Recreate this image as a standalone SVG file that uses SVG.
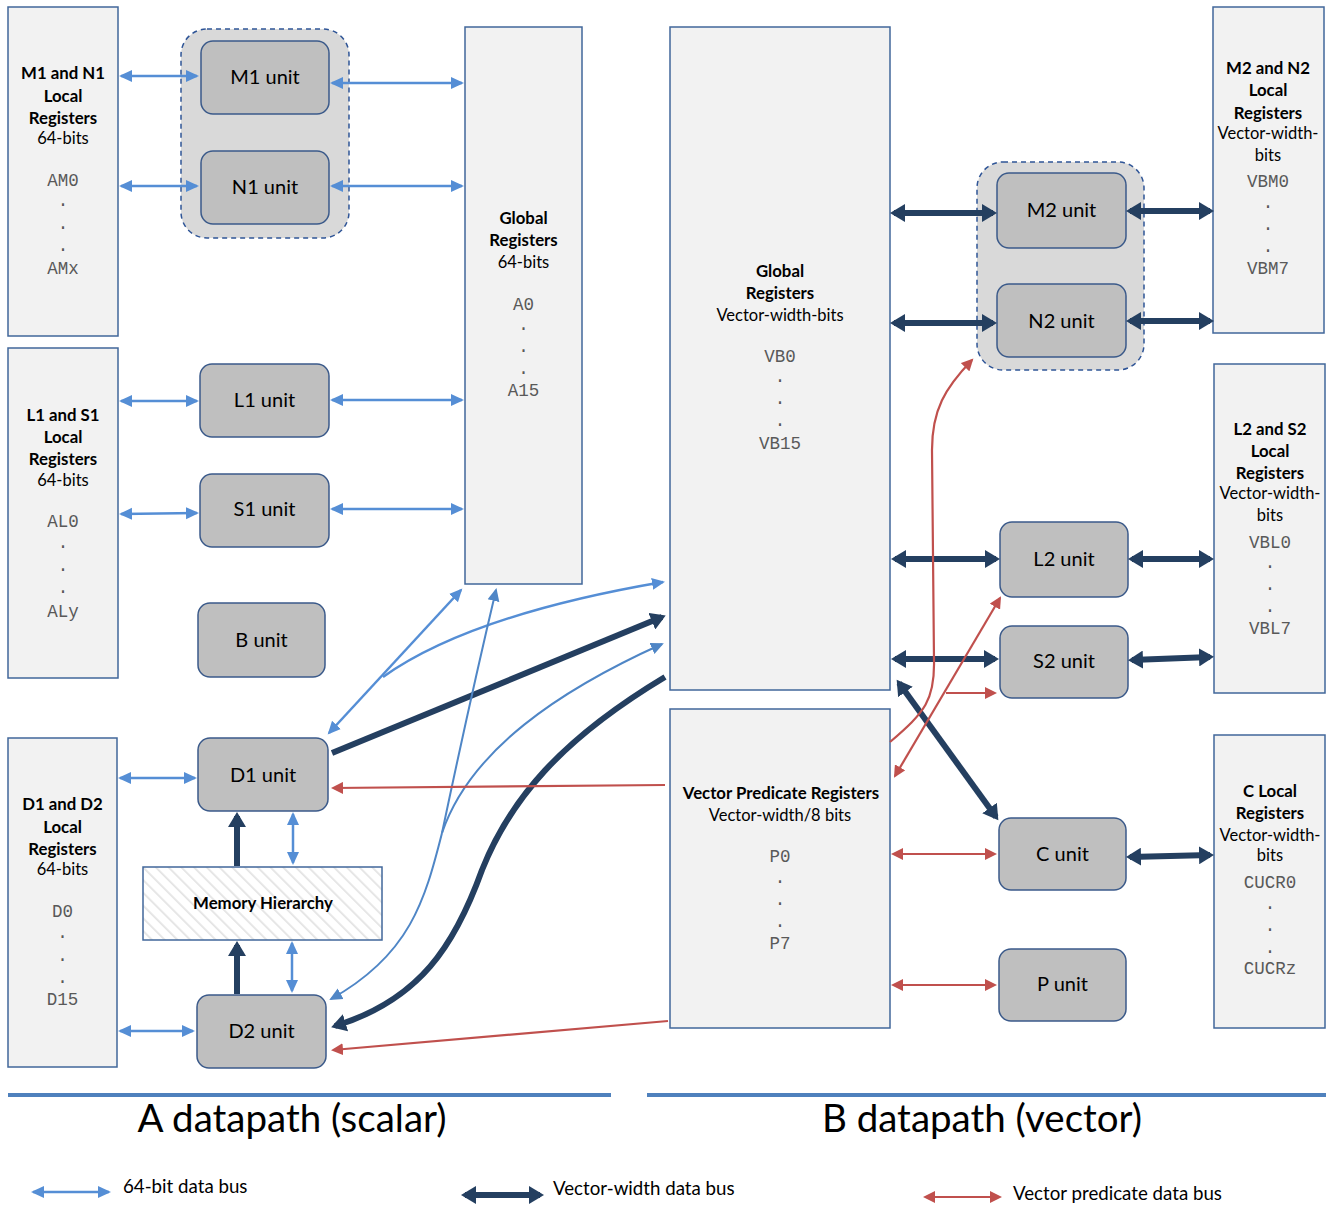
<svg xmlns="http://www.w3.org/2000/svg" width="1326" height="1205" viewBox="0 0 1326 1205">
<style>
.reg{fill:#f2f2f2;stroke:#41679a;stroke-width:1.5}
.unit{fill:#bfbfbf;stroke:#3b5a8a;stroke-width:1.5}
.grp{fill:#d9d9d9;stroke:#2f5597;stroke-width:1.5;stroke-dasharray:5 4}
.t{font-family:Lato,"Liberation Sans",sans-serif;fill:#000;text-anchor:middle}
.b{font-weight:bold;font-size:16.8px}
.r{font-size:16.5px}
.u{font-size:20px}
.m{font-family:"Liberation Mono","Courier New",monospace;font-size:17.5px;fill:#595959;text-anchor:middle}
.lg{font-family:Lato,"Liberation Sans",sans-serif;font-size:18.7px;fill:#000}
.lb{fill:none;stroke:#558ed5;stroke-width:2.5}
.lbt{fill:none;stroke:#4f86c6;stroke-width:2}
.dk{fill:none;stroke:#243f60;stroke-width:6}
.rd{fill:none;stroke:#c0504d;stroke-width:2.2}
</style>
<defs>
<marker id="aB" markerUnits="userSpaceOnUse" viewBox="0 0 14 14" markerWidth="14" markerHeight="14" refX="11" refY="7" orient="auto-start-reverse"><path d="M0,1 L13,7 L0,13 z" fill="#558ed5"/></marker>
<marker id="aB2" markerUnits="userSpaceOnUse" viewBox="0 0 14 14" markerWidth="14" markerHeight="14" refX="11" refY="7" orient="auto-start-reverse"><path d="M0,1 L13,7 L0,13 z" fill="#4f86c6"/></marker>
<marker id="aD" markerUnits="userSpaceOnUse" viewBox="0 0 16 18" markerWidth="16" markerHeight="18" refX="11" refY="9" orient="auto-start-reverse"><path d="M0,0 L15,9 L0,18 z" fill="#243f60"/></marker>
<marker id="aR" markerUnits="userSpaceOnUse" viewBox="0 0 13 12" markerWidth="13" markerHeight="12" refX="10" refY="6" orient="auto-start-reverse"><path d="M0,0 L12,6 L0,12 z" fill="#c0504d"/></marker>
<pattern id="hatch" patternUnits="userSpaceOnUse" width="9" height="9" patternTransform="rotate(-45)"><rect width="9" height="9" fill="#ffffff"/><line x1="0" y1="0" x2="0" y2="9" stroke="#e3e3e3" stroke-width="3.5"/></pattern>
</defs>

<g id="m1n1-local">
<rect class="reg" x="8" y="7" width="110" height="329"/>
<text class="t b" x="63" y="79">M1 and N1</text>
<text class="t b" x="63" y="102">Local</text>
<text class="t b" x="63" y="124">Registers</text>
<text class="t r" x="63" y="144">64-bits</text>
<text class="m" x="63" y="186">AM0</text>
<text class="m" x="63" y="206">.</text>
<text class="m" x="63" y="229">.</text>
<text class="m" x="63" y="251">.</text>
<text class="m" x="63" y="274">AMx</text>
</g>
<g id="mn1-group"><rect class="grp" x="181" y="29" width="168" height="209" rx="26"/></g>
<g id="m1-unit"><rect class="unit" x="201" y="41" width="128" height="73" rx="12"/><text class="t u" x="265" y="84">M1 unit</text></g>
<g id="n1-unit"><rect class="unit" x="201" y="151" width="128" height="73" rx="12"/><text class="t u" x="265" y="194">N1 unit</text></g>

<g id="global-a">
<rect class="reg" x="465" y="27" width="117" height="557"/>
<text class="t b" x="523.5" y="224">Global</text>
<text class="t b" x="523.5" y="246">Registers</text>
<text class="t r" x="523.5" y="268">64-bits</text>
<text class="m" x="523.5" y="310">A0</text>
<text class="m" x="523.5" y="330">.</text>
<text class="m" x="523.5" y="352">.</text>
<text class="m" x="523.5" y="374">.</text>
<text class="m" x="523.5" y="396">A15</text>
</g>

<g id="l1s1-local">
<rect class="reg" x="8" y="348" width="110" height="330"/>
<text class="t b" x="63" y="421">L1 and S1</text>
<text class="t b" x="63" y="443">Local</text>
<text class="t b" x="63" y="465">Registers</text>
<text class="t r" x="63" y="486">64-bits</text>
<text class="m" x="63" y="527">AL0</text>
<text class="m" x="63" y="548">.</text>
<text class="m" x="63" y="571">.</text>
<text class="m" x="63" y="593">.</text>
<text class="m" x="63" y="617">ALy</text>
</g>
<g id="l1-unit"><rect class="unit" x="200" y="364" width="129" height="73" rx="12"/><text class="t u" x="264.5" y="407">L1 unit</text></g>
<g id="s1-unit"><rect class="unit" x="200" y="474" width="129" height="73" rx="12"/><text class="t u" x="264.5" y="516">S1 unit</text></g>
<g id="b-unit"><rect class="unit" x="198" y="603" width="127" height="74" rx="12"/><text class="t u" x="261.5" y="647">B unit</text></g>

<g id="d1d2-local">
<rect class="reg" x="8" y="738" width="109" height="329"/>
<text class="t b" x="62.5" y="810">D1 and D2</text>
<text class="t b" x="62.5" y="833">Local</text>
<text class="t b" x="62.5" y="855">Registers</text>
<text class="t r" x="62.5" y="875">64-bits</text>
<text class="m" x="62.5" y="917">D0</text>
<text class="m" x="62.5" y="938">.</text>
<text class="m" x="62.5" y="961">.</text>
<text class="m" x="62.5" y="983">.</text>
<text class="m" x="62.5" y="1005">D15</text>
</g>
<g id="d1-unit"><rect class="unit" x="198" y="738" width="130" height="73" rx="12"/><text class="t u" x="263" y="782">D1 unit</text></g>
<g id="memory"><rect x="143" y="867" width="239" height="73" fill="url(#hatch)" stroke="#41679a" stroke-width="1.5"/><text class="t b" x="263" y="909">Memory Hierarchy</text></g>
<g id="d2-unit"><rect class="unit" x="197" y="995" width="129" height="73" rx="12"/><text class="t u" x="261.5" y="1038">D2 unit</text></g>

<g id="global-b">
<rect class="reg" x="670" y="27" width="220" height="663"/>
<text class="t b" x="780" y="277">Global</text>
<text class="t b" x="780" y="299">Registers</text>
<text class="t r" x="780" y="321">Vector-width-bits</text>
<text class="m" x="780" y="362">VB0</text>
<text class="m" x="780" y="382">.</text>
<text class="m" x="780" y="404">.</text>
<text class="m" x="780" y="426">.</text>
<text class="m" x="780" y="449">VB15</text>
</g>
<g id="vpr">
<rect class="reg" x="670" y="709" width="220" height="319"/>
<text class="t b" x="781" y="799">Vector Predicate Registers</text>
<text class="t r" x="780" y="821">Vector-width/8 bits</text>
<text class="m" x="780" y="862">P0</text>
<text class="m" x="780" y="883">.</text>
<text class="m" x="780" y="905">.</text>
<text class="m" x="780" y="927">.</text>
<text class="m" x="780" y="949">P7</text>
</g>

<g id="mn2-group"><rect class="grp" x="977" y="162" width="167" height="208" rx="26"/></g>
<g id="m2-unit"><rect class="unit" x="997" y="173" width="129" height="75" rx="12"/><text class="t u" x="1061.5" y="217">M2 unit</text></g>
<g id="n2-unit"><rect class="unit" x="997" y="284" width="129" height="73" rx="12"/><text class="t u" x="1061.5" y="328">N2 unit</text></g>
<g id="m2n2-local">
<rect class="reg" x="1213" y="7" width="111" height="326"/>
<text class="t b" x="1268" y="74">M2 and N2</text>
<text class="t b" x="1268" y="96">Local</text>
<text class="t b" x="1268" y="119">Registers</text>
<text class="t r" x="1268" y="139">Vector-width-</text>
<text class="t r" x="1268" y="161">bits</text>
<text class="m" x="1268" y="187">VBM0</text>
<text class="m" x="1268" y="208">.</text>
<text class="m" x="1268" y="230">.</text>
<text class="m" x="1268" y="252">.</text>
<text class="m" x="1268" y="274">VBM7</text>
</g>
<g id="l2s2-local">
<rect class="reg" x="1214" y="364" width="111" height="329"/>
<text class="t b" x="1270" y="435">L2 and S2</text>
<text class="t b" x="1270" y="457">Local</text>
<text class="t b" x="1270" y="479">Registers</text>
<text class="t r" x="1270" y="499">Vector-width-</text>
<text class="t r" x="1270" y="521">bits</text>
<text class="m" x="1270" y="548">VBL0</text>
<text class="m" x="1270" y="568">.</text>
<text class="m" x="1270" y="590">.</text>
<text class="m" x="1270" y="612">.</text>
<text class="m" x="1270" y="634">VBL7</text>
</g>
<g id="l2-unit"><rect class="unit" x="1000" y="522" width="128" height="75" rx="12"/><text class="t u" x="1064" y="566">L2 unit</text></g>
<g id="s2-unit"><rect class="unit" x="1000" y="626" width="128" height="72" rx="12"/><text class="t u" x="1064" y="668">S2 unit</text></g>
<g id="c-unit"><rect class="unit" x="999" y="818" width="127" height="72" rx="12"/><text class="t u" x="1062.5" y="861">C unit</text></g>
<g id="p-unit"><rect class="unit" x="999" y="949" width="127" height="72" rx="12"/><text class="t u" x="1062.5" y="991">P unit</text></g>
<g id="c-local">
<rect class="reg" x="1214" y="735" width="111" height="293"/>
<text class="t b" x="1270" y="797">C Local</text>
<text class="t b" x="1270" y="819">Registers</text>
<text class="t r" x="1270" y="841">Vector-width-</text>
<text class="t r" x="1270" y="861">bits</text>
<text class="m" x="1270" y="888">CUCR0</text>
<text class="m" x="1270" y="909">.</text>
<text class="m" x="1270" y="931">.</text>
<text class="m" x="1270" y="953">.</text>
<text class="m" x="1270" y="974">CUCRz</text>
</g>

<g id="connectors">
<line class="lb" x1="121" y1="76" x2="197" y2="76" marker-start="url(#aB)" marker-end="url(#aB)"/>
<line class="lb" x1="332" y1="83" x2="462" y2="83" marker-start="url(#aB)" marker-end="url(#aB)"/>
<line class="lb" x1="121" y1="186" x2="197" y2="186" marker-start="url(#aB)" marker-end="url(#aB)"/>
<line class="lb" x1="332" y1="186" x2="462" y2="186" marker-start="url(#aB)" marker-end="url(#aB)"/>
<line class="lb" x1="121" y1="401" x2="197" y2="401" marker-start="url(#aB)" marker-end="url(#aB)"/>
<line class="lb" x1="332" y1="400" x2="462" y2="400" marker-start="url(#aB)" marker-end="url(#aB)"/>
<line class="lb" x1="121" y1="514" x2="197" y2="513" marker-start="url(#aB)" marker-end="url(#aB)"/>
<line class="lb" x1="332" y1="509" x2="462" y2="509" marker-start="url(#aB)" marker-end="url(#aB)"/>
<line class="lb" x1="120" y1="778" x2="195" y2="778" marker-start="url(#aB)" marker-end="url(#aB)"/>
<line class="lb" x1="120" y1="1031" x2="193" y2="1031" marker-start="url(#aB)" marker-end="url(#aB)"/>
<line class="lb" x1="293" y1="814" x2="293" y2="863" marker-start="url(#aB)" marker-end="url(#aB)"/>
<line class="lb" x1="292" y1="943" x2="292" y2="991" marker-start="url(#aB)" marker-end="url(#aB)"/>
<line class="dk" x1="237" y1="866" x2="237" y2="816" stroke-width="5" marker-end="url(#aD)"/>
<line class="dk" x1="237" y1="994" x2="237" y2="945" stroke-width="5" marker-end="url(#aD)"/>
<line class="lb" x1="329" y1="733" x2="461" y2="590" marker-start="url(#aB)" marker-end="url(#aB)"/>
<path class="lb" d="M383,677 Q470,615 663,582" marker-end="url(#aB)"/>
<line class="dk" x1="332" y1="753" x2="662" y2="617" marker-end="url(#aD)"/>
<path class="lbt" d="M442,833 Q470,700 496,590" marker-end="url(#aB2)"/>
<path class="lbt" d="M442,833 C470,750 560,690 662,644" marker-end="url(#aB2)"/>
<path class="lbt" d="M442,833 C425,900 410,955 331,999" marker-end="url(#aB2)"/>
<path class="dk" d="M665,677 C560,740 510,800 482,870 C455,945 420,1000 335,1026" marker-end="url(#aD)"/>
<line class="rd" x1="665" y1="785" x2="333" y2="788" marker-end="url(#aR)"/>
<line class="rd" x1="668" y1="1021" x2="333" y2="1050" marker-end="url(#aR)"/>
<line class="dk" x1="894" y1="213" x2="993" y2="213" marker-start="url(#aD)" marker-end="url(#aD)"/>
<line class="dk" x1="894" y1="323" x2="993" y2="323" marker-start="url(#aD)" marker-end="url(#aD)"/>
<line class="dk" x1="1130" y1="211" x2="1210" y2="211" marker-start="url(#aD)" marker-end="url(#aD)"/>
<line class="dk" x1="1130" y1="321" x2="1210" y2="321" marker-start="url(#aD)" marker-end="url(#aD)"/>
<line class="dk" x1="895" y1="559" x2="996" y2="559" marker-start="url(#aD)" marker-end="url(#aD)"/>
<line class="dk" x1="1132" y1="559" x2="1210" y2="559" marker-start="url(#aD)" marker-end="url(#aD)"/>
<line class="dk" x1="895" y1="659" x2="995" y2="659" marker-start="url(#aD)" marker-end="url(#aD)"/>
<line class="dk" x1="1132" y1="660" x2="1210" y2="657" marker-start="url(#aD)" marker-end="url(#aD)"/>
<line class="dk" x1="1130" y1="857" x2="1210" y2="855" marker-start="url(#aD)" marker-end="url(#aD)"/>
<line class="dk" x1="899" y1="683" x2="996" y2="817" marker-start="url(#aD)" marker-end="url(#aD)"/>
<line class="rd" x1="893" y1="854" x2="995" y2="854" marker-start="url(#aR)" marker-end="url(#aR)"/>
<line class="rd" x1="893" y1="985" x2="995" y2="985" marker-start="url(#aR)" marker-end="url(#aR)"/>
<path class="rd" d="M890,742 C925,712 935,700 934,660 L932,450 C932,410 945,388 972,360" marker-end="url(#aR)"/>
<line class="rd" x1="895" y1="776" x2="1000" y2="598" marker-start="url(#aR)" marker-end="url(#aR)"/>
<line class="rd" x1="946" y1="693" x2="995" y2="693" marker-end="url(#aR)"/>
</g>

<g id="datapaths">
<line x1="8" y1="1095" x2="611" y2="1095" stroke="#4f81bd" stroke-width="4"/>
<line x1="647" y1="1095" x2="1326" y2="1095" stroke="#4f81bd" stroke-width="4"/>
<text class="t" x="292" y="1132" font-size="38.5">A datapath (scalar)</text>
<text class="t" x="982" y="1132" font-size="38.5">B datapath (vector)</text>
</g>

<g id="legend">
<line class="lb" x1="33" y1="1192" x2="109" y2="1192" stroke-width="3" marker-start="url(#aB)" marker-end="url(#aB)"/>
<text class="lg" x="123" y="1193">64-bit data bus</text>
<line class="dk" x1="465" y1="1195" x2="540" y2="1195" marker-start="url(#aD)" marker-end="url(#aD)"/>
<text class="lg" x="553" y="1195">Vector-width data bus</text>
<line class="rd" x1="925" y1="1197" x2="1000" y2="1197" stroke-width="3" marker-start="url(#aR)" marker-end="url(#aR)"/>
<text class="lg" x="1013" y="1200">Vector predicate data bus</text>
</g>
</svg>
